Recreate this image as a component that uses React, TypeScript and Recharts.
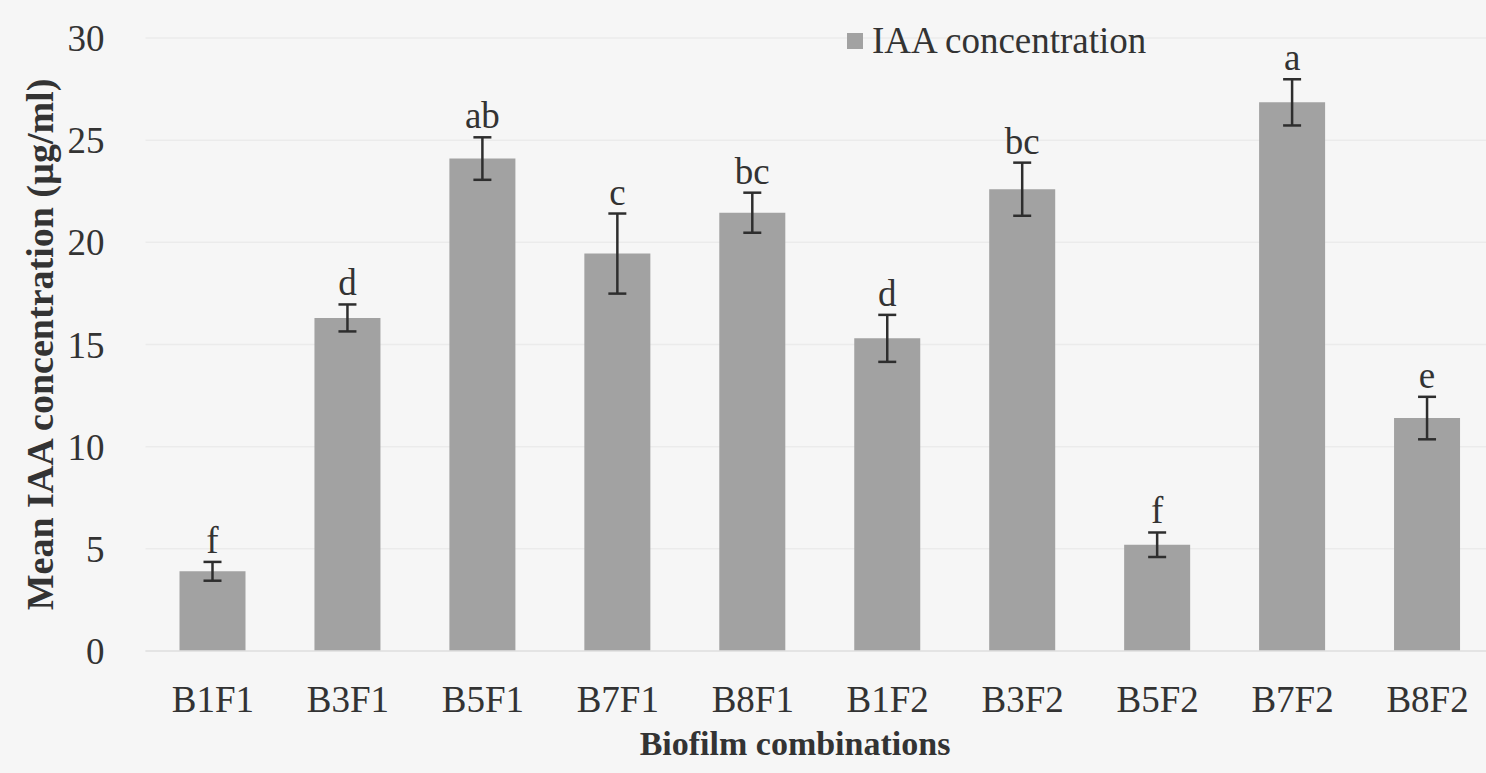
import React from 'react';
import { BarChart, Bar, XAxis, YAxis, CartesianGrid, ErrorBar, LabelList } from 'recharts';

// Mean IAA production for each biofilm combination
const combinations = ['B1F1', 'B3F1', 'B5F1', 'B7F1', 'B8F1', 'B1F2', 'B3F2', 'B5F2', 'B7F2', 'B8F2'];
const meanIAA = [3.9, 16.3, 24.1, 19.45, 21.45, 15.3, 22.6, 5.2, 26.85, 11.4];
const stdError = [0.46, 0.66, 1.04, 1.96, 0.98, 1.15, 1.3, 0.6, 1.13, 1.04];
const groupLetters = ['f', 'd', 'ab', 'c', 'bc', 'd', 'bc', 'f', 'a', 'e'];
const yTicks = [0, 5, 10, 15, 20, 25, 30];
const seriesName = 'IAA concentration';

const data = combinations.map((name, i) => ({
  name,
  mean: meanIAA[i],
  err: stdError[i],
  letter: groupLetters[i],
}));

const FONT = '"Liberation Serif", "Times New Roman", serif';
const TEXT = '#333333';
const BAR = '#a2a2a2';

// Significance letter sits just above the top of the error bar
const LetterLabel = (props: any) => {
  const { x, y, width, height, index } = props;
  const d = data[index];
  if (!d) return null;
  const perUnit = height / d.mean;
  const errTop = y - d.err * perUnit;
  return (
    <text
      x={x + width / 2}
      y={errTop - 9}
      textAnchor="middle"
      fontFamily={FONT}
      fontSize={37}
      fill={TEXT}
    >
      {d.letter}
    </text>
  );
};

const YTitle = (props: any) => {
  const vb = props.viewBox || {};
  const cy = (vb.y ?? 38) + (vb.height ?? 613) / 2;
  const cx = 40;
  return (
    <text
      x={cx}
      y={cy}
      transform={`rotate(-90, ${cx}, ${cy})`}
      textAnchor="middle"
      dominantBaseline="central"
      fontFamily={FONT}
      fontWeight="bold"
      fontSize={38}
      fill={TEXT}
    >
      Mean IAA concentration (µg/ml)
    </text>
  );
};

const XTitle = () => (
  <text
    x={795}
    y={755}
    textAnchor="middle"
    fontFamily={FONT}
    fontWeight="bold"
    fontSize={34}
    fill={TEXT}
  >
    Biofilm combinations
  </text>
);

export default function App() {
  return (
    <div
      style={{
        position: 'absolute',
        left: 0,
        top: 0,
        width: 1486,
        height: 773,
        overflow: 'hidden',
        background: '#f6f6f6',
      }}
    >
      <BarChart
        width={1500}
        height={773}
        data={data}
        margin={{ top: 38, right: 5, bottom: 22, left: 0 }}
        barSize={66}
      >
        <CartesianGrid vertical={false} stroke="#ebebeb" strokeWidth={1.5} />
        <XAxis
          dataKey="name"
          height={100}
          tickLine={false}
          axisLine={{ stroke: '#e0e0e0', strokeWidth: 1.5 }}
          tickMargin={29}
          tick={{ fontFamily: FONT, fontSize: 37, fill: TEXT }}
          interval={0}
          label={<XTitle />}
        />
        <YAxis
          width={145.5}
          domain={[0, 30]}
          ticks={yTicks}
          tickLine={false}
          axisLine={false}
          tickMargin={35}
          tick={{ fontFamily: FONT, fontSize: 37, fill: TEXT }}
          label={<YTitle />}
        />
        <Bar dataKey="mean" name={seriesName} fill={BAR} isAnimationActive={false}>
          <ErrorBar dataKey="err" direction="y" width={9} strokeWidth={2.5} stroke="#2e2e2e" />
          <LabelList dataKey="letter" content={<LetterLabel />} />
        </Bar>
      </BarChart>
      <div
        style={{
          position: 'absolute',
          left: 847,
          top: 22,
          display: 'flex',
          alignItems: 'center',
          fontFamily: FONT,
          fontSize: 37,
          color: TEXT,
          lineHeight: 1,
        }}
      >
        <span style={{ display: 'inline-block', width: 16, height: 16, background: BAR, marginRight: 9 }} />
        <span>{seriesName}</span>
      </div>
    </div>
  );
}
